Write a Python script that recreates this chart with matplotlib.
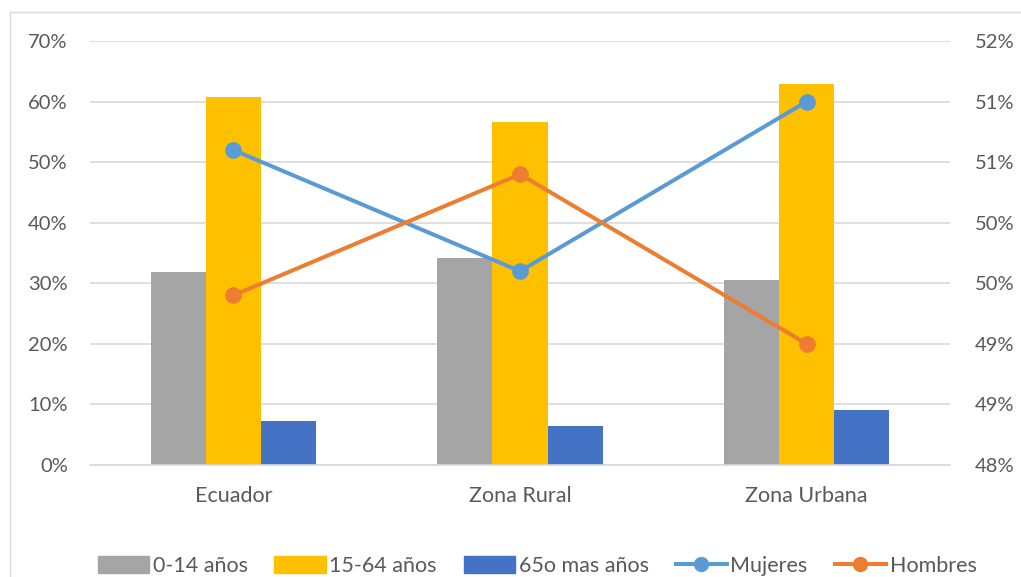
import numpy as np
import matplotlib.pyplot as plt
from matplotlib.patches import Rectangle
from matplotlib.lines import Line2D
from matplotlib.ticker import FuncFormatter

categories = ["Ecuador", "Zona Rural", "Zona Urbana"]
edad_0_14 = [31.9, 34.2, 30.6]
edad_15_64 = [60.8, 56.6, 62.9]
edad_65 = [7.3, 6.4, 9.1]
mujeres = [50.6, 49.6, 51.0]
hombres = [49.4, 50.4, 49.0]

bar_labels = ["0-14 años", "15-64 años", "65o mas años"]
bar_colors = ["#a5a5a5", "#ffc000", "#4472c4"]
line_colors = ["#5b9bd5", "#ed7d31"]

plt.rcParams["font.family"] = ["Lato", "DejaVu Sans"]
text_color = "#595959"
grid_color = "#d9d9d9"
fs = 14.5
fs_big = 15.5

fig = plt.figure(figsize=(10.21, 5.77), dpi=100)
ax = fig.add_axes([90 / 1021, 1 - 465 / 577, 860 / 1021, 424 / 577])

x = np.arange(len(categories))
w = 0.192
for i, (vals, col) in enumerate(zip([edad_0_14, edad_15_64, edad_65], bar_colors)):
    ax.bar(x + (i - 1) * w, vals, width=w, color=col, label=bar_labels[i], zorder=2)

ax.set_xlim(-0.5, 2.5)
ax.set_ylim(0, 70)
ax.set_yticks(np.arange(0, 71, 10))
ax.yaxis.set_major_formatter(FuncFormatter(lambda v, p: f"{v:.0f}%"))
ax.set_xticks(x)
ax.set_xticklabels(categories)
ax.grid(axis="y", color=grid_color, linewidth=1.2, zorder=0)
for s in ["top", "left", "right"]:
    ax.spines[s].set_visible(False)
ax.spines["bottom"].set_color(grid_color)
ax.spines["bottom"].set_linewidth(1.2)
ax.tick_params(length=0, labelsize=fs, colors=text_color)
ax.tick_params(axis="y", pad=16)
ax.tick_params(axis="x", pad=15, labelsize=fs_big)

ax2 = ax.twinx()
ax2.plot(x, mujeres, color=line_colors[0], lw=2.9, marker="o", ms=11, zorder=3)
ax2.plot(x, hombres, color=line_colors[1], lw=2.9, marker="o", ms=11, zorder=3)
ax2.set_ylim(48, 51.5)
ax2.set_yticks(np.arange(48, 51.51, 0.5))
ax2.yaxis.set_major_formatter(FuncFormatter(lambda v, p: f"{int(np.floor(v + 0.5))}%"))
for s in ax2.spines.values():
    s.set_visible(False)
ax2.tick_params(length=0, labelsize=fs, colors=text_color, pad=18)

handles = [Rectangle((0, 0), 1, 1, color=c) for c in bar_colors]
handles += [Line2D([], [], color=c, lw=2.9, marker="o", ms=10) for c in line_colors]
labels = bar_labels + ["Mujeres", "Hombres"]
fig.legend(handles, labels, loc="center", bbox_to_anchor=(0.526, 1 - 566 / 577),
           ncol=5, frameon=False, fontsize=fs_big, labelcolor=text_color,
           handlelength=2.4, handleheight=0.85, handletextpad=0.15, columnspacing=1.25)

fig.add_artist(Rectangle((10 / 1021, -0.1), 1.2, 1 - 12 / 577 + 0.1,
                         transform=fig.transFigure, fill=False,
                         edgecolor=grid_color, lw=1))

fig.savefig("out.png", dpi=100)
